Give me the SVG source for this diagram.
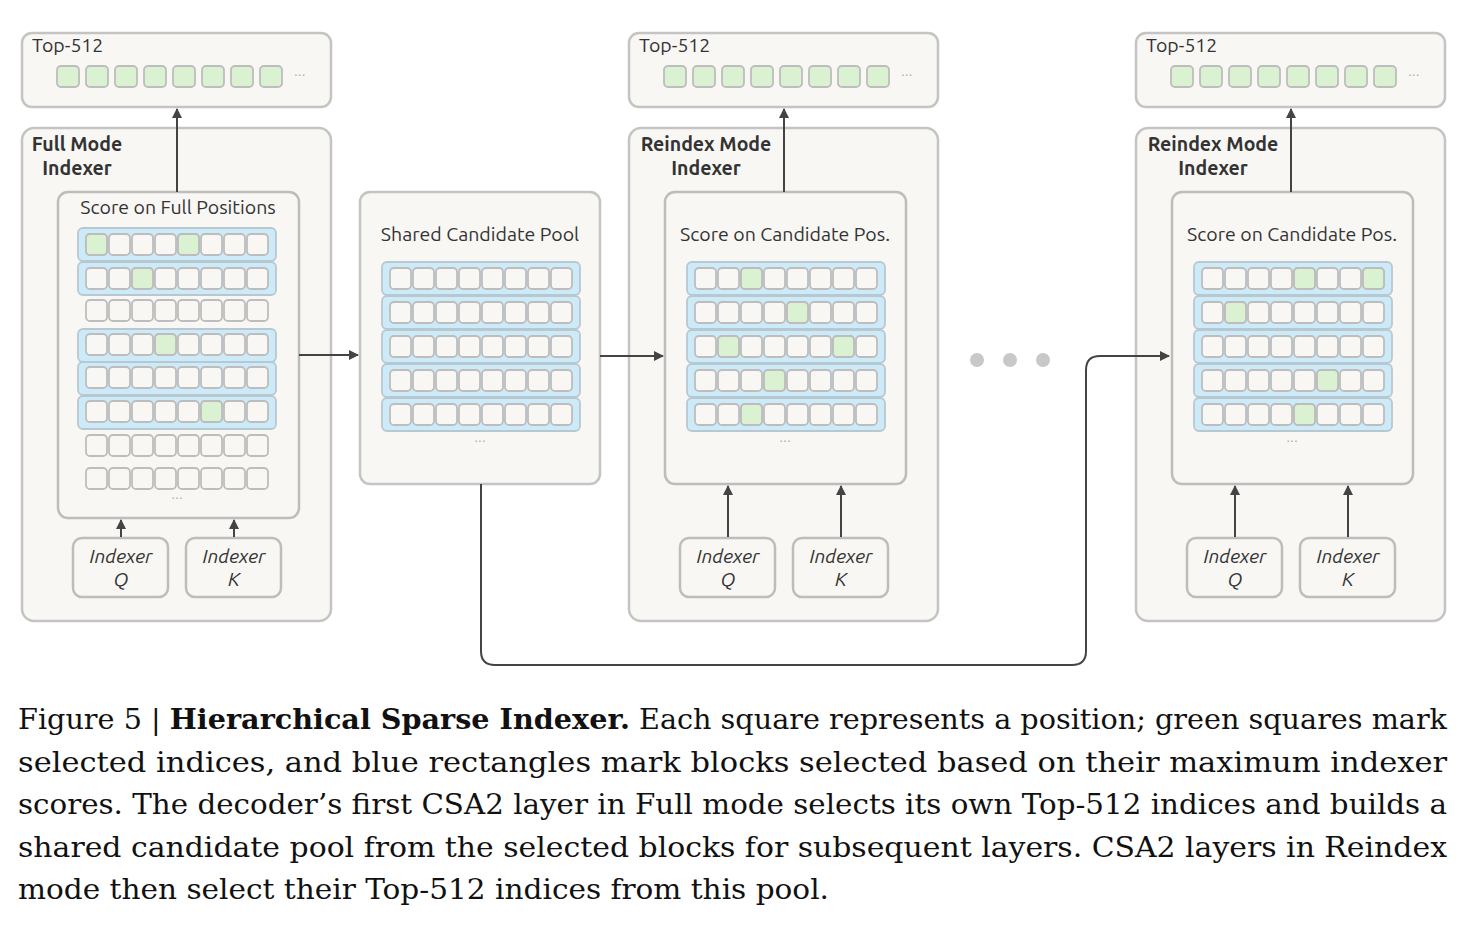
<svg xmlns="http://www.w3.org/2000/svg" width="1470" height="933" viewBox="0 0 1470 933">
<defs>
<marker id="ah" viewBox="0 0 10 10" refX="9" refY="5" markerWidth="5" markerHeight="5" orient="auto"><path d="M0,0 L10,5 L0,10 z" fill="#444"/></marker>
<g id="top8">
<rect x="0" y="0" width="22" height="21" rx="4"/><rect x="29" y="0" width="22" height="21" rx="4"/><rect x="58" y="0" width="22" height="21" rx="4"/><rect x="87" y="0" width="22" height="21" rx="4"/><rect x="116" y="0" width="22" height="21" rx="4"/><rect x="145" y="0" width="22" height="21" rx="4"/><rect x="174" y="0" width="22" height="21" rx="4"/><rect x="203" y="0" width="22" height="21" rx="4"/>
</g>
<g id="row8" class="sq">
<rect x="0" y="0" width="21" height="21" rx="4"/><rect x="23" y="0" width="21" height="21" rx="4"/><rect x="46" y="0" width="21" height="21" rx="4"/><rect x="69" y="0" width="21" height="21" rx="4"/><rect x="92" y="0" width="21" height="21" rx="4"/><rect x="115" y="0" width="21" height="21" rx="4"/><rect x="138" y="0" width="21" height="21" rx="4"/><rect x="161" y="0" width="21" height="21" rx="4"/>
</g>
</defs>
<style>
.box{fill:#f8f7f4;stroke:#c4c4c4;stroke-width:2.5}
.inner{fill:#f8f7f4;stroke:#bdbdbd;stroke-width:2.5}
.sq rect, .sq{fill:#f8f7f4;stroke:#bdbdbd;stroke-width:1.8}
.band{fill:#cdeaf8;stroke:#b8c8d0;stroke-width:1.8}
.g{fill:#daf1d2;stroke:#bdbdbd;stroke-width:1.8}
.topg{fill:#daf1d2;stroke:#bdbdbd;stroke-width:1.8}
.t{font-family:Ubuntu,"Noto Sans","Open Sans",sans-serif;fill:#333;font-size:19.5px}
.b{font-family:Ubuntu,"Noto Sans","Open Sans",sans-serif;fill:#333;font-size:19.5px;font-weight:bold}
.i{font-family:Ubuntu,"Noto Sans","Open Sans",sans-serif;fill:#333;font-size:19.5px;font-style:italic}
.dots{font-family:"DejaVu Sans",sans-serif;fill:#aaa;font-size:12px}
.c{stroke:#444;stroke-width:2;fill:none}
.cap{font-family:"DejaVu Serif","Liberation Serif",serif;font-size:28px;fill:#111}
</style>

<g id="top1">
<rect class="box" x="22" y="33" width="309" height="74" rx="10"/>
<text class="t" x="32" y="52">Top-512</text>
<use href="#top8" x="57" y="66" class="topg"/>
<text class="dots" x="294" y="80">···</text>
</g>
<g id="top2">
<rect class="box" x="629" y="33" width="309" height="74" rx="10"/>
<text class="t" x="639" y="52">Top-512</text>
<use href="#top8" x="664" y="66" class="topg"/>
<text class="dots" x="901" y="80">···</text>
</g>
<g id="top3">
<rect class="box" x="1136" y="33" width="309" height="74" rx="10"/>
<text class="t" x="1146" y="52">Top-512</text>
<use href="#top8" x="1171" y="66" class="topg"/>
<text class="dots" x="1408" y="80">···</text>
</g>

<g id="full">
<rect class="box" x="22" y="128" width="309" height="493" rx="12"/>
<text class="b" x="77" y="151" text-anchor="middle">Full Mode</text>
<text class="b" x="77" y="175" text-anchor="middle">Indexer</text>
<rect class="inner" x="58" y="192" width="241" height="326" rx="10"/>
<text class="t" x="178" y="214" text-anchor="middle">Score on Full Positions</text>
<rect class="band" x="78" y="228" width="198" height="33" rx="5"/>
<rect class="band" x="78" y="262" width="198" height="33" rx="5"/>
<rect class="band" x="78" y="329" width="198" height="33" rx="5"/>
<rect class="band" x="78" y="362" width="198" height="33" rx="5"/>
<rect class="band" x="78" y="396" width="198" height="33" rx="5"/>
<use href="#row8" x="86" y="234"/><use href="#row8" x="86" y="268"/><use href="#row8" x="86" y="300"/><use href="#row8" x="86" y="334"/><use href="#row8" x="86" y="367"/><use href="#row8" x="86" y="401"/><use href="#row8" x="86" y="435"/><use href="#row8" x="86" y="468"/>
<rect class="g" x="86" y="234" width="21" height="21" rx="4"/><rect class="g" x="178" y="234" width="21" height="21" rx="4"/>
<rect class="g" x="132" y="268" width="21" height="21" rx="4"/>
<rect class="g" x="155" y="334" width="21" height="21" rx="4"/>
<rect class="g" x="201" y="401" width="21" height="21" rx="4"/>
<text class="dots" x="177" y="503" text-anchor="middle">···</text>
</g>
<g id="fq"><rect class="inner" x="73" y="538" width="95" height="59" rx="9"/><text class="i" x="121" y="563" text-anchor="middle">Indexer</text><text class="i" x="121" y="586" text-anchor="middle">Q</text></g>
<g id="fk"><rect class="inner" x="186" y="538" width="95" height="59" rx="9"/><text class="i" x="234" y="563" text-anchor="middle">Indexer</text><text class="i" x="234" y="586" text-anchor="middle">K</text></g>

<g id="pool">
<rect class="box" x="360" y="192" width="240" height="292" rx="10"/>
<text class="t" x="480" y="241" text-anchor="middle">Shared Candidate Pool</text>
<rect class="band" x="382" y="262" width="198" height="33" rx="5"/>
<rect class="band" x="382" y="296" width="198" height="33" rx="5"/>
<rect class="band" x="382" y="330" width="198" height="33" rx="5"/>
<rect class="band" x="382" y="364" width="198" height="33" rx="5"/>
<rect class="band" x="382" y="398" width="198" height="33" rx="5"/>
<use href="#row8" x="390" y="268"/><use href="#row8" x="390" y="302"/><use href="#row8" x="390" y="336"/><use href="#row8" x="390" y="370"/><use href="#row8" x="390" y="404"/>
<text class="dots" x="480" y="446" text-anchor="middle">···</text>
</g>

<g id="re1">
<rect class="box" x="629" y="128" width="309" height="493" rx="12"/>
<text class="b" x="706" y="151" text-anchor="middle">Reindex Mode</text>
<text class="b" x="706" y="175" text-anchor="middle">Indexer</text>
<rect class="inner" x="665" y="192" width="241" height="292" rx="10"/>
<text class="t" x="785" y="241" text-anchor="middle">Score on Candidate Pos.</text>
<rect class="band" x="687" y="262" width="198" height="33" rx="5"/>
<rect class="band" x="687" y="296" width="198" height="33" rx="5"/>
<rect class="band" x="687" y="330" width="198" height="33" rx="5"/>
<rect class="band" x="687" y="364" width="198" height="33" rx="5"/>
<rect class="band" x="687" y="398" width="198" height="33" rx="5"/>
<use href="#row8" x="695" y="268"/><use href="#row8" x="695" y="302"/><use href="#row8" x="695" y="336"/><use href="#row8" x="695" y="370"/><use href="#row8" x="695" y="404"/>
<rect class="g" x="741" y="268" width="21" height="21" rx="4"/>
<rect class="g" x="787" y="302" width="21" height="21" rx="4"/>
<rect class="g" x="718" y="336" width="21" height="21" rx="4"/><rect class="g" x="833" y="336" width="21" height="21" rx="4"/>
<rect class="g" x="764" y="370" width="21" height="21" rx="4"/>
<rect class="g" x="741" y="404" width="21" height="21" rx="4"/>
<text class="dots" x="785" y="446" text-anchor="middle">···</text>
</g>
<g id="rq1"><rect class="inner" x="680" y="538" width="95" height="59" rx="9"/><text class="i" x="728" y="563" text-anchor="middle">Indexer</text><text class="i" x="728" y="586" text-anchor="middle">Q</text></g>
<g id="rk1"><rect class="inner" x="793" y="538" width="95" height="59" rx="9"/><text class="i" x="841" y="563" text-anchor="middle">Indexer</text><text class="i" x="841" y="586" text-anchor="middle">K</text></g>

<g id="re2">
<rect class="box" x="1136" y="128" width="309" height="493" rx="12"/>
<text class="b" x="1213" y="151" text-anchor="middle">Reindex Mode</text>
<text class="b" x="1213" y="175" text-anchor="middle">Indexer</text>
<rect class="inner" x="1172" y="192" width="241" height="292" rx="10"/>
<text class="t" x="1292" y="241" text-anchor="middle">Score on Candidate Pos.</text>
<rect class="band" x="1194" y="262" width="198" height="33" rx="5"/>
<rect class="band" x="1194" y="296" width="198" height="33" rx="5"/>
<rect class="band" x="1194" y="330" width="198" height="33" rx="5"/>
<rect class="band" x="1194" y="364" width="198" height="33" rx="5"/>
<rect class="band" x="1194" y="398" width="198" height="33" rx="5"/>
<use href="#row8" x="1202" y="268"/><use href="#row8" x="1202" y="302"/><use href="#row8" x="1202" y="336"/><use href="#row8" x="1202" y="370"/><use href="#row8" x="1202" y="404"/>
<rect class="g" x="1294" y="268" width="21" height="21" rx="4"/><rect class="g" x="1363" y="268" width="21" height="21" rx="4"/>
<rect class="g" x="1225" y="302" width="21" height="21" rx="4"/>
<rect class="g" x="1317" y="370" width="21" height="21" rx="4"/>
<rect class="g" x="1294" y="404" width="21" height="21" rx="4"/>
<text class="dots" x="1292" y="446" text-anchor="middle">···</text>
</g>
<g id="rq2"><rect class="inner" x="1187" y="538" width="95" height="59" rx="9"/><text class="i" x="1235" y="563" text-anchor="middle">Indexer</text><text class="i" x="1235" y="586" text-anchor="middle">Q</text></g>
<g id="rk2"><rect class="inner" x="1300" y="538" width="95" height="59" rx="9"/><text class="i" x="1348" y="563" text-anchor="middle">Indexer</text><text class="i" x="1348" y="586" text-anchor="middle">K</text></g>

<g id="ellipsis" fill="#c8c8c8"><circle cx="977" cy="360" r="7"/><circle cx="1010" cy="360" r="7"/><circle cx="1043" cy="360" r="7"/></g>

<g id="connectors" class="c">
<path class="c" d="M177,192 V109" marker-end="url(#ah)"/>
<path class="c" d="M784,192 V109" marker-end="url(#ah)"/>
<path class="c" d="M1291,192 V109" marker-end="url(#ah)"/>
<path class="c" d="M121,537 V520" marker-end="url(#ah)"/>
<path class="c" d="M234,537 V520" marker-end="url(#ah)"/>
<path class="c" d="M728,537 V486" marker-end="url(#ah)"/>
<path class="c" d="M841,537 V486" marker-end="url(#ah)"/>
<path class="c" d="M1235,537 V486" marker-end="url(#ah)"/>
<path class="c" d="M1348,537 V486" marker-end="url(#ah)"/>
<path class="c" d="M299,355 H358" marker-end="url(#ah)"/>
<path class="c" d="M600,356 H663" marker-end="url(#ah)"/>
<path class="c" d="M481,484 V651 Q481,665 495,665 H1072 Q1086,665 1086,651 V370 Q1086,356 1100,356 H1169" marker-end="url(#ah)"/>
</g>

<g id="caption" class="cap">
<text x="18" y="729" textLength="1429" lengthAdjust="spacingAndGlyphs">Figure 5 | <tspan font-weight="bold">Hierarchical Sparse Indexer.</tspan> Each square represents a position; green squares mark</text>
<text x="18" y="772" textLength="1429" lengthAdjust="spacingAndGlyphs">selected indices, and blue rectangles mark blocks selected based on their maximum indexer</text>
<text x="18" y="814" textLength="1429" lengthAdjust="spacingAndGlyphs">scores. The decoder’s first CSA2 layer in Full mode selects its own Top-512 indices and builds a</text>
<text x="18" y="857" textLength="1429" lengthAdjust="spacingAndGlyphs">shared candidate pool from the selected blocks for subsequent layers. CSA2 layers in Reindex</text>
<text x="18" y="899" textLength="811" lengthAdjust="spacingAndGlyphs">mode then select their Top-512 indices from this pool.</text>
</g>
</svg>
